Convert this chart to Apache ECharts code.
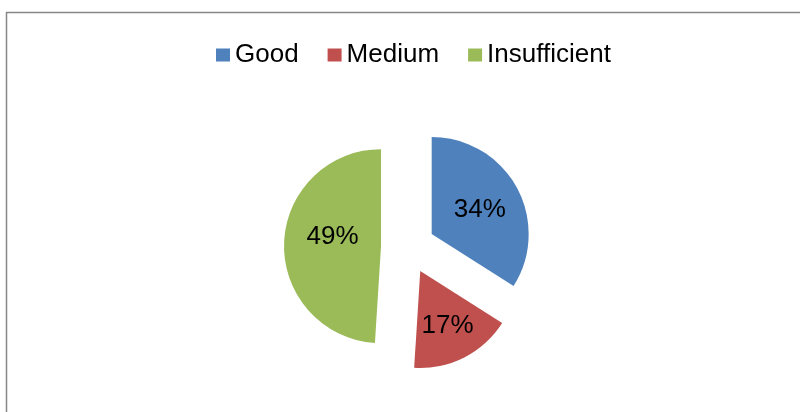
<!DOCTYPE html>
<html>
<head>
<meta charset="utf-8">
<script src="https://cdn.jsdelivr.net/npm/echarts@6/dist/echarts.min.js"></script>
<style>
  html, body { margin: 0; padding: 0; background: #fff; }
  #pie { width: 800px; height: 412px; }
</style>
</head>
<body>
<div id="pie"></div>
<script>
// 数据
var categories = ["Good", "Medium", "Insufficient"];
var values = [34, 17, 49];
var colors = ["#4F81BD", "#C0504D", "#9BBB59"];

// 标签微调 (Excel 的标签位置与 ECharts 略有不同)
var labelShift = [[3, 1], [4, 9], [3, -8]];

var chart = echarts.init(document.getElementById("pie"));

var opt = {
  animation: false,
  textStyle: { fontFamily: "Liberation Sans, Arial, sans-serif" },
  // 外框
  graphic: [
    {
      type: "rect",
      shape: { x: 6.5, y: 12.5, width: 900, height: 500 },
      style: { fill: "none", stroke: "#868686", lineWidth: 1.5 },
      silent: true
    }
  ],
  legend: {
    left: 216,
    top: 42,
    padding: 0,
    icon: "rect",
    itemWidth: 14,
    itemHeight: 13,
    itemGap: 29,
    selectedMode: false,
    textStyle: { color: "#000", fontSize: 26 },
    data: categories
  },
  series: [
    {
      type: "pie",
      center: [408, 247],
      radius: 97,
      startAngle: 90,
      clockwise: true,
      selectedMode: "multiple",
      selectedOffset: 27,
      emphasis: { disabled: true },
      label: {
        show: true,
        position: "inside",
        color: "#000",
        fontSize: 26,
        formatter: "{c}%"
      },
      labelLayout: function(params) {
        var s = labelShift[params.dataIndex];
        return { dx: s[0], dy: s[1] };
      },
      labelLine: { show: false },
      data: categories.map(function(name, i) {
        return {
          name: name,
          value: values[i],
          selected: true,
          itemStyle: { color: colors[i] }
        };
      })
    }
  ]
};

chart.setOption(opt);
</script>
</body>
</html>
